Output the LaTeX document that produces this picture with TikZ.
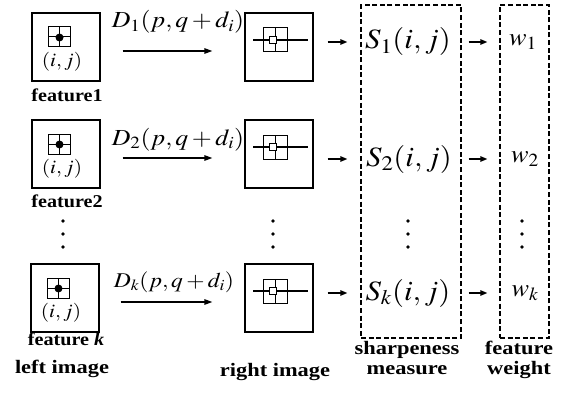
\documentclass[tikz,border=0pt]{standalone}
\usepackage{mathptmx}
\usepackage[no-math]{fontspec}
\setmainfont{Liberation Serif}
\usetikzlibrary{arrows.meta,calc}
\begin{document}
\begin{tikzpicture}[x=1pt,y=-1pt,
  box/.style={draw, line width=1.3pt, minimum width=68pt, minimum height=68pt, inner sep=0pt},
  dbox/.style={draw, line width=1.3pt, dash pattern=on 5pt off 2.6pt, inner sep=0pt},
  arr/.style={-{Triangle[length=8pt,width=5.5pt]}, line width=1.3pt},
  sarr/.style={-{Triangle[length=7pt,width=5.5pt]}, line width=1.3pt},
  flab/.style={font=\fontsize{18}{18}\selectfont\bfseries, xscale=1.12, anchor=base, inner sep=0pt},
  blab/.style={font=\fontsize{19}{19}\selectfont\bfseries, xscale=1.18, anchor=base, inner sep=0pt},
  dlab/.style={font=\fontsize{23}{23}\selectfont, xscale=1.12, anchor=base, inner sep=0pt},
  slab/.style={font=\fontsize{28}{28}\selectfont, xscale=1.1, inner sep=0pt},
  wlab/.style={font=\fontsize{25}{25}\selectfont, xscale=1.05, inner sep=0pt},
  ijlab/.style={font=\fontsize{19}{19}\selectfont, xscale=1.12, inner sep=0pt},
  dotc/.style={fill=black},
  licon/.pic={
    \draw[line width=1pt] (-18,-20) rectangle (4,0);
    \draw[line width=1pt] (-7,-20) -- (-7,0) (-18,-10) -- (4,-10);
    \fill (-6.5,-9.5) circle (4);
  },
  ricon/.pic={
    \draw[line width=1pt] (-16,-19) rectangle (8,5);
    \draw[line width=1pt] (-4,-19) -- (-4,5);
    \draw[line width=1.4pt] (-26,-7) -- (29,-7);
    \draw[line width=1.6pt, fill=white] (-9.5,-10.5) rectangle (-2.5,-3.5);
  }
]
\useasboundingbox (0,0) rectangle (567,401);

% left image boxes
\node[box] (L1) at (66,47) {};
\node[box] (L2) at (66,154) {};
\node[box] (Lk) at (65,298) {};
\pic at (L1.center) {licon};
\pic at (L2.center) {licon};
\pic at (Lk.center) {licon};
\node[ijlab] (ij1) at ($(L1.center)+(-4,15)$) {$(i,j)$};
\node[ijlab] (ij2) at ($(L2.center)+(-4,15)$) {$(i,j)$};
\node[ijlab] (ijk) at ($(Lk.center)+(-4,15)$) {$(i,j)$};

% right image boxes
\node[box] (R1) at (279,47) {};
\node[box] (R2) at (279,154) {};
\node[box] (Rk) at (279,298) {};
\pic at (R1.center) {ricon};
\pic at (R2.center) {ricon};
\pic at (Rk.center) {ricon};

% disparity arrows and labels
\node[dlab] (D1) at (178,28) {$D_1(p,q+d_i)$};
\node[dlab] (D2) at (178,145) {$D_2(p,q+d_i)$};
\node[dlab, font=\fontsize{21}{21}\selectfont] (Dk) at (174,287) {$D_k(p,q+d_i)$};
\draw[arr, shorten <=22pt, shorten >=32pt] ($(L1.east)+(0,4)$) -- ($(R1.west)+(0,4)$);
\draw[arr, shorten <=22pt, shorten >=32pt] ($(L2.east)+(0,4)$) -- ($(R2.west)+(0,4)$);
\draw[arr, shorten <=21pt, shorten >=32pt] ($(Lk.east)+(0,4)$) -- ($(Rk.west)+(0,4)$);

% dashed boxes
\node[dbox, minimum width=100pt, minimum height=333pt] (SB) at (411,171.5) {};
\node[dbox, minimum width=49pt, minimum height=333pt] (WB) at (524.5,171.5) {};

% sharpness and weights
\node[slab] (S1) at (408,42) {$S_1(i,j)$};
\node[slab] (S2) at (409,159) {$S_2(i,j)$};
\node[slab] (Sk) at (408,293) {$S_k(i,j)$};
\node[wlab] (W1) at (523,42) {$w_1$};
\node[wlab] (W2) at (525,159) {$w_2$};
\node[wlab] (Wk) at (525,293) {$w_k$};

\foreach \r in {1,2,k}{
  \draw[sarr, shorten <=14pt, shorten >=13pt] (R\r.east |- S\r.center) -- (SB.west |- S\r.center);
  \draw[sarr, shorten <=7pt, shorten >=12pt] (SB.east |- S\r.center) -- (WB.west |- S\r.center);
}

% vertical dots
\foreach \xx in {63,273,408,522}{
  \foreach \yy in {221,234,247}{
    \fill[dotc] (\xx,\yy) circle (1.8);
  }
}

% labels
\node[flab] (F1) at (67,102) {feature1};
\node[flab] (F2) at (67,207) {feature2};
\node[flab] (Fk) at (66,345) {feature \textit{k}};
\node[blab] (LI) at (62,373) {left image};
\node[blab] (RI) at (275,376) {right image};
\node[blab] (SM1) at (407,354) {sharpeness};
\node[blab] (SM2) at (407,374) {measure};
\node[blab] (FW1) at (519,354) {feature};
\node[blab] (FW2) at (519,374) {weight};
\end{tikzpicture}
\end{document}
